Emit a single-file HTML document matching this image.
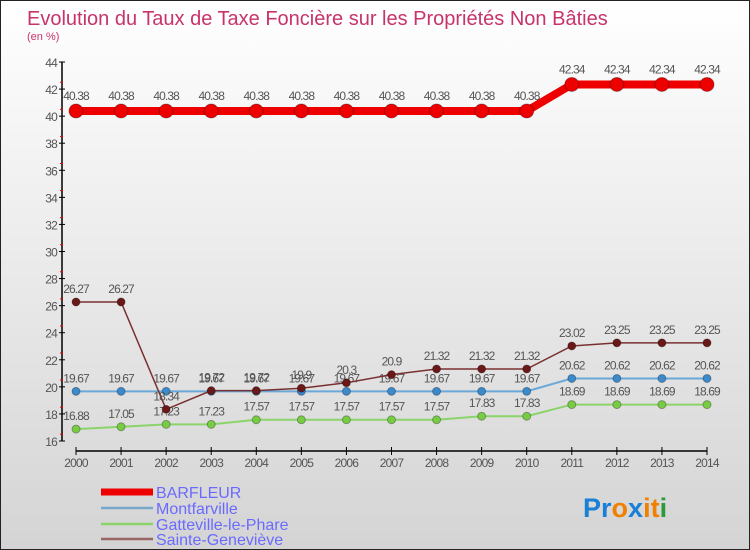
<!DOCTYPE html>
<html><head><meta charset="utf-8"><style>
body{margin:0}
#c{position:relative;width:748px;height:548px;border:1px solid #222;background:linear-gradient(#fff,#d4d4d4);font-family:"Liberation Sans",sans-serif;overflow:hidden}
text{font-family:"Liberation Sans",sans-serif}
</style></head><body>
<div id="c">
<svg id="s" width="748" height="548">
<text x="26" y="24" font-size="20" fill="#c8336c" letter-spacing="0">Evolution du Taux de Taxe Foncière sur les Propriétés Non Bâties</text>
<text x="26" y="39" font-size="11" fill="#c8336c">(en %)</text>
<g id="ax"></g><g id="series"></g>
<g>
<line x1="100" y1="491" x2="152" y2="491" stroke="#e00" stroke-width="7"/>
<text x="155" y="497" font-size="16" fill="#6a6aff">BARFLEUR</text>
<line x1="100" y1="507" x2="152" y2="507" stroke="#7aa8cc" stroke-width="2.5"/>
<text x="155" y="513" font-size="16" fill="#6a6aff">Montfarville</text>
<line x1="100" y1="523" x2="152" y2="523" stroke="#8ad46a" stroke-width="2.5"/>
<text x="155" y="529" font-size="16" fill="#6a6aff">Gatteville-le-Phare</text>
<line x1="100" y1="538" x2="152" y2="538" stroke="#996666" stroke-width="2.5"/>
<text x="155" y="544" font-size="16" fill="#6a6aff">Sainte-Geneviève</text>
</g>
<text x="582" y="516" font-size="27" font-weight="bold"><tspan fill="#1a7fd6">Pr</tspan><tspan fill="#f08000">o</tspan><tspan fill="#1a7fd6">x</tspan><tspan fill="#f08000">i</tspan><tspan fill="#f08000">t</tspan><tspan fill="#2a9a3a">i</tspan></text>
</svg></div>
<script>
const years=[2000,2001,2002,2003,2004,2005,2006,2007,2008,2009,2010,2011,2012,2013,2014];
const barfleur=[40.38,40.38,40.38,40.38,40.38,40.38,40.38,40.38,40.38,40.38,40.38,42.34,42.34,42.34,42.34];
const montfarville=[19.67,19.67,19.67,19.67,19.67,19.67,19.67,19.67,19.67,19.67,19.67,20.62,20.62,20.62,20.62];
const gatteville=[16.88,17.05,17.23,17.23,17.57,17.57,17.57,17.57,17.57,17.83,17.83,18.69,18.69,18.69,18.69];
const sainte=[26.27,26.27,18.34,19.72,19.72,19.9,20.3,20.9,21.32,21.32,21.32,23.02,23.25,23.25,23.25];
const yTicks=[16,18,20,22,24,26,28,30,32,34,36,38,40,42,44];
const NS="http://www.w3.org/2000/svg";
const X=i=>75+i*(706-75)/(years.length-1);
const Y=v=>440-(v-16)*(440-61)/28;
function mk(t,a,p){const e=document.createElementNS(NS,t);for(const k in a)e.setAttribute(k,a[k]);p.appendChild(e);return e;}
const ax=document.getElementById('ax');
mk('line',{x1:61,y1:61,x2:61,y2:440,stroke:'#000','stroke-width':1.5},ax);
mk('line',{x1:75,y1:450,x2:706,y2:450,stroke:'#000','stroke-width':1.5},ax);
yTicks.forEach(v=>{
 const y=Y(v);
 mk('line',{x1:58,y1:y,x2:64,y2:y,stroke:'#000'},ax);
 if(v<44) mk('line',{x1:59,y1:y-6.8,x2:62,y2:y-6.8,stroke:'#e00'},ax);
 const t=mk('text',{x:56,y:y+5,'font-size':12,fill:'#555','text-anchor':'end','letter-spacing':-0.8},ax);
 
 
 t.textContent=v;
});
years.forEach((yr,i)=>{
 mk('line',{x1:X(i),y1:446,x2:X(i),y2:454,stroke:'#000'},ax);
 const t=mk('text',{x:X(i),y:466,'font-size':12,fill:'#555','text-anchor':'middle','letter-spacing':-0.8},ax);
 
 
 t.textContent=yr;
});
const sg=document.getElementById('series');
function series(name,vals,col,dot,w,r,lblDy){
 const g=mk('g',{},sg);
 
 
 mk('polyline',{points:vals.map((v,i)=>X(i)+','+Y(v)).join(' '),fill:'none',stroke:col,'stroke-width':w},g);
 vals.forEach((v,i)=>{
  const c=mk('circle',{cx:X(i),cy:Y(v),r:r,fill:dot,stroke:'rgba(0,0,0,0.3)'},g);
  
  
  const t=mk('text',{x:X(i),y:Y(v)+lblDy,'font-size':12,fill:'#555','text-anchor':'middle','letter-spacing':-0.9},g);
  
  
  t.textContent=v;
 });
}
series('gatteville',gatteville,'#8ad46a','#77cc44',2,4,-9);
series('montfarville',montfarville,'#6aa8d8','#3a8acc',2,4,-9);
series('sainte-genevieve',sainte,'#7a3030','#6a1818',1.5,4,-9);
series('barfleur',barfleur,'#e00','#e00',8,7,-11);
</script>
</body></html>
